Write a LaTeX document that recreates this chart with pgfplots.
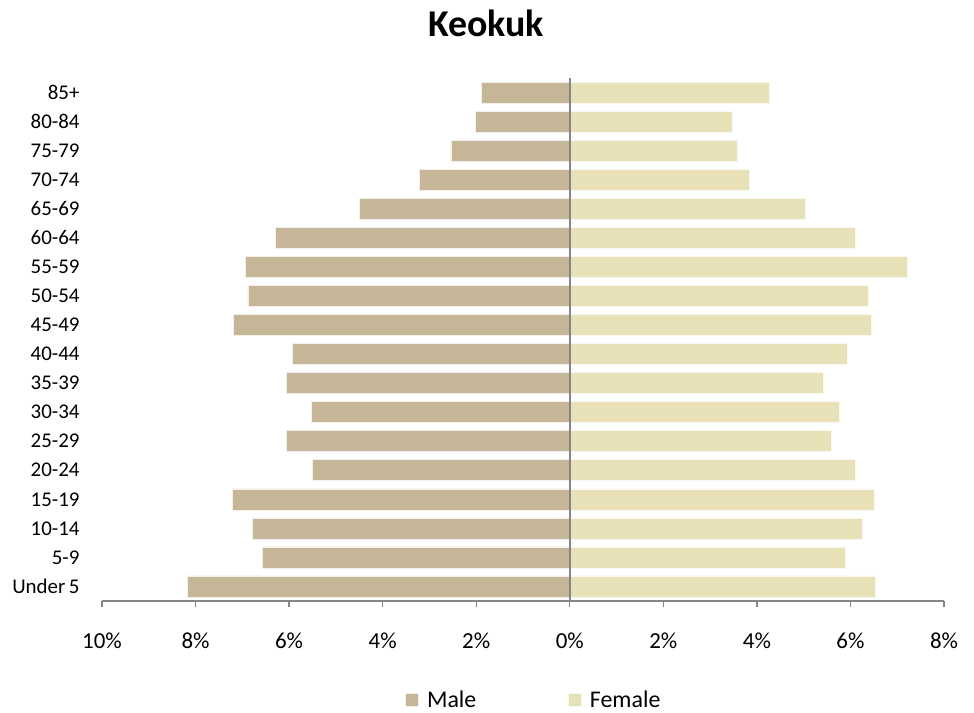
\documentclass[border=0pt]{standalone}
\usepackage{pgfplots}
\pgfplotsset{compat=1.18}
\usepackage{fontspec}
\setmainfont{Carlito}
\definecolor{malec}{RGB}{196,182,151}
\definecolor{femalec}{RGB}{232,224,182}
\definecolor{axisgray}{RGB}{134,134,134}
\begin{document}
\begin{tikzpicture}
\begin{axis}[
  scale only axis,
  width=842bp, height=523bp,
  xmin=-10, xmax=8,
  ymin=-0.5, ymax=17.5,
  separate axis lines,
  axis x line*=bottom,
  axis y line*=left,
  y axis line style={draw=none},
  x axis line style={draw=axisgray, line width=1.3bp},
  xtick={-10,-8,-6,-4,-2,0,2,4,6,8},
  xticklabels={10\%,8\%,6\%,4\%,2\%,0\%,2\%,4\%,6\%,8\%},
  xtick align=outside,
  xtick style={draw=axisgray, line width=1.3bp},
  major tick length=6bp,
  xticklabel style={font=\fontsize{23}{27}\selectfont, yshift=-22bp},
  ytick={0,...,17},
  yticklabels={Under\,5,5-9,10-14,15-19,20-24,25-29,30-34,35-39,40-44,45-49,50-54,55-59,60-64,65-69,70-74,75-79,80-84,85+},
  ytick style={draw=none},
  yticklabel style={font=\fontsize{21}{25}\selectfont, xshift=-19bp},
  legend columns=2,
  legend style={at={(0.513,-0.189)}, anchor=center, draw=none, fill=none,
    font=\fontsize{24}{28}\selectfont,
    /tikz/every even column/.append style={column sep=90bp}},
  legend image code/.code={\fill[#1] (0bp,-6.5bp) rectangle (13bp,6.5bp); \path (19bp,0bp);},
  clip=false,
]
\addplot[xbar, bar width=21bp, bar shift=0pt, fill=malec, draw=white!80!malec, line width=0.6bp] coordinates {
(-8.17,0) (-6.57,1) (-6.79,2) (-7.22,3) (-5.50,4) (-6.05,5) (-5.53,6) (-6.05,7) (-5.93,8)
(-7.19,9) (-6.88,10) (-6.94,11) (-6.30,12) (-4.50,13) (-3.22,14) (-2.54,15) (-2.02,16) (-1.89,17)};
\addlegendentry{Male}
\addplot[xbar, bar width=21bp, bar shift=0pt, fill=femalec, draw=white!80!femalec, line width=0.6bp] coordinates {
(6.54,0) (5.89,1) (6.26,2) (6.51,3) (6.11,4) (5.58,5) (5.77,6) (5.42,7) (5.93,8)
(6.44,9) (6.38,10) (7.21,11) (6.11,12) (5.03,13) (3.83,14) (3.58,15) (3.47,16) (4.27,17)};
\addlegendentry{Female}
\draw[axisgray, line width=1.6bp] (axis cs:0,-0.5) -- (axis cs:0,17.5);
\node[font=\fontsize{38}{43}\selectfont\bfseries] at (axis description cs:0.456,1.105) {Keokuk};
\end{axis}
\useasboundingbox (current axis.south west) ++(-102bp,-112bp) rectangle ([shift={(30bp,78bp)}]current axis.north east);
\end{tikzpicture}
\end{document}
